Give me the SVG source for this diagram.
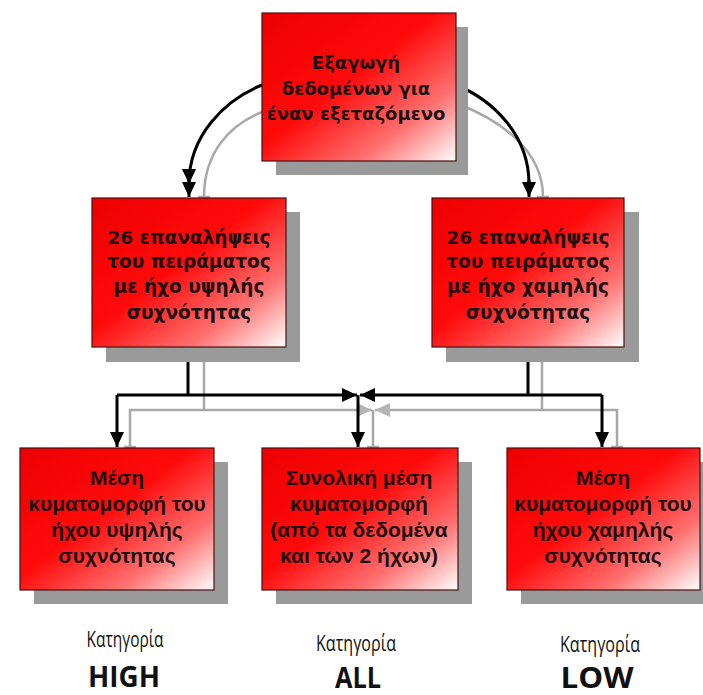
<svg xmlns="http://www.w3.org/2000/svg" width="703" height="695" viewBox="0 0 703 695">
<defs>
<linearGradient id="red" x1="0" y1="0" x2="1" y2="1">
<stop offset="0" stop-color="#ee0000"/>
<stop offset="0.45" stop-color="#ff0a0a"/>
<stop offset="0.75" stop-color="#ff7070"/>
<stop offset="1" stop-color="#ffffff"/>
</linearGradient>
<marker id="ab" markerUnits="userSpaceOnUse" markerWidth="16" markerHeight="14" refX="15" refY="7" orient="auto">
<path d="M0,0 L15,7 L0,14 z" fill="#000"/>
</marker>
<marker id="ag" markerUnits="userSpaceOnUse" markerWidth="16" markerHeight="14" refX="15" refY="7" orient="auto">
<path d="M0,0 L15,7 L0,14 z" fill="#b4b4b4"/>
</marker>
</defs>
<style>
.sh{fill:#9a9a9a}
.bx{fill:url(#red);stroke:#4a1010;stroke-width:1.2}
.t{font-family:"DejaVu Sans",sans-serif;font-weight:bold;font-size:18.5px;fill:#1c1010;text-anchor:middle}
.tt{font-size:18px}
.b{font-family:"Liberation Sans",Arial,sans-serif;font-weight:bold;font-size:21px;fill:#1c1010;text-anchor:middle}
.bl{fill:none;stroke:#000;stroke-width:3}
.gr{fill:none;stroke:#a8a8a8;stroke-width:2.5}
.c1{font-family:"Open Sans",sans-serif;font-size:21px;fill:#111;text-anchor:middle}
.c2{font-family:"Open Sans",sans-serif;font-weight:bold;font-size:29px;fill:#111;text-anchor:middle}
</style>
<rect width="703" height="695" fill="#fff"/>
<g id="connectors">
<path class="gr" d="M262,112 C230,125 204,152 204,197"/>
<path class="gr" d="M458,104 C500,120 543,150 543,197"/>
<path class="gr" d="M198,197 H210 M537,197 H549"/>
<path class="gr" d="M204,360 V410 H130 V447"/>
<path class="gr" d="M542,360 V410 H617 V447"/>
<path class="gr" d="M204,410 H372" marker-end="url(#ag)"/>
<path class="gr" d="M542,410 H375" marker-end="url(#ag)"/>
<path class="gr" d="M373,410 V447"/>
<path class="gr" d="M124,447 H136 M367,447 H379 M611,447 H623"/>
<path class="bl" d="M262,85 C225,100 189,135 189,184" marker-end="url(#ab)"/>
<path class="bl" d="M189,180 V197" marker-end="url(#ab)"/>
<path class="bl" d="M456,85 C493,100 529,135 529,184"/>
<path class="bl" d="M529,180 V197" marker-end="url(#ab)"/>
<path class="bl" d="M188,347 V395"/>
<path class="bl" d="M528,347 V395"/>
<path class="bl" d="M117,395 H357" marker-end="url(#ab)"/>
<path class="bl" d="M602,395 H360" marker-end="url(#ab)"/>
<path class="bl" d="M117,395 V447" marker-end="url(#ab)"/>
<path class="bl" d="M602,395 V447" marker-end="url(#ab)"/>
<path class="bl" d="M358,395 V447" marker-end="url(#ab)"/>
</g>
<g id="n-top">
<rect class="sh" x="276" y="27" width="192" height="148"/>
<rect class="bx" x="262" y="13" width="194" height="148"/>
<text class="t tt" x="356" y="69">Εξαγωγή</text>
<text class="t tt" x="356" y="95">δεδομένων για</text>
<text class="t tt" x="356" y="120">έναν εξεταζόμενο</text>
</g>
<g id="n-high">
<rect class="sh" x="106" y="212" width="194" height="150"/>
<rect class="bx" x="92" y="198" width="194" height="149"/>
<text class="t" x="189" y="244">26 επαναλήψεις</text>
<text class="t" x="189" y="268">του πειράματος</text>
<text class="t" x="189" y="293">με ήχο υψηλής</text>
<text class="t" x="189" y="319">συχνότητας</text>
</g>
<g id="n-low">
<rect class="sh" x="446" y="212" width="193" height="150"/>
<rect class="bx" x="432" y="198" width="192" height="149"/>
<text class="t" x="528" y="244">26 επαναλήψεις</text>
<text class="t" x="528" y="268">του πειράματος</text>
<text class="t" x="528" y="293">με ήχο χαμηλής</text>
<text class="t" x="528" y="319">συχνότητας</text>
</g>
<g id="n-mean-high">
<rect class="sh" x="34" y="462" width="194" height="142"/>
<rect class="bx" x="20" y="448" width="194" height="142"/>
<text class="b" x="117" y="485">Μέση</text>
<text class="b" x="117" y="511">κυματομορφή του</text>
<text class="b" x="117" y="537">ήχου υψηλής</text>
<text class="b" x="117" y="563">συχνότητας</text>
</g>
<g id="n-mean-all">
<rect class="sh" x="276" y="462" width="196" height="142"/>
<rect class="bx" x="262" y="448" width="196" height="142"/>
<text class="b" x="359" y="485">Συνολική μέση</text>
<text class="b" x="359" y="511">κυματομορφή</text>
<text class="b" x="359" y="537">(από τα δεδομένα</text>
<text class="b" x="359" y="563">και των 2 ήχων)</text>
</g>
<g id="n-mean-low">
<rect class="sh" x="521" y="462" width="194" height="142"/>
<rect class="bx" x="507" y="448" width="193" height="142"/>
<text class="b" x="603" y="485">Μέση</text>
<text class="b" x="603" y="511">κυματομορφή του</text>
<text class="b" x="603" y="537">ήχου χαμηλής</text>
<text class="b" x="603" y="563">συχνότητας</text>
</g>
<g id="labels">
<text class="c1" x="125" y="647" textLength="77" lengthAdjust="spacingAndGlyphs">Κατηγορία</text>
<text class="c2" x="124" y="687" textLength="72" lengthAdjust="spacingAndGlyphs">HIGH</text>
<text class="c1" x="356" y="651" textLength="80" lengthAdjust="spacingAndGlyphs">Κατηγορία</text>
<text class="c2" x="358" y="688" textLength="46" lengthAdjust="spacingAndGlyphs">ALL</text>
<text class="c1" x="600" y="652" textLength="80" lengthAdjust="spacingAndGlyphs">Κατηγορία</text>
<text class="c2" x="597" y="688" textLength="73" lengthAdjust="spacingAndGlyphs">LOW</text>
</g>
</svg>
